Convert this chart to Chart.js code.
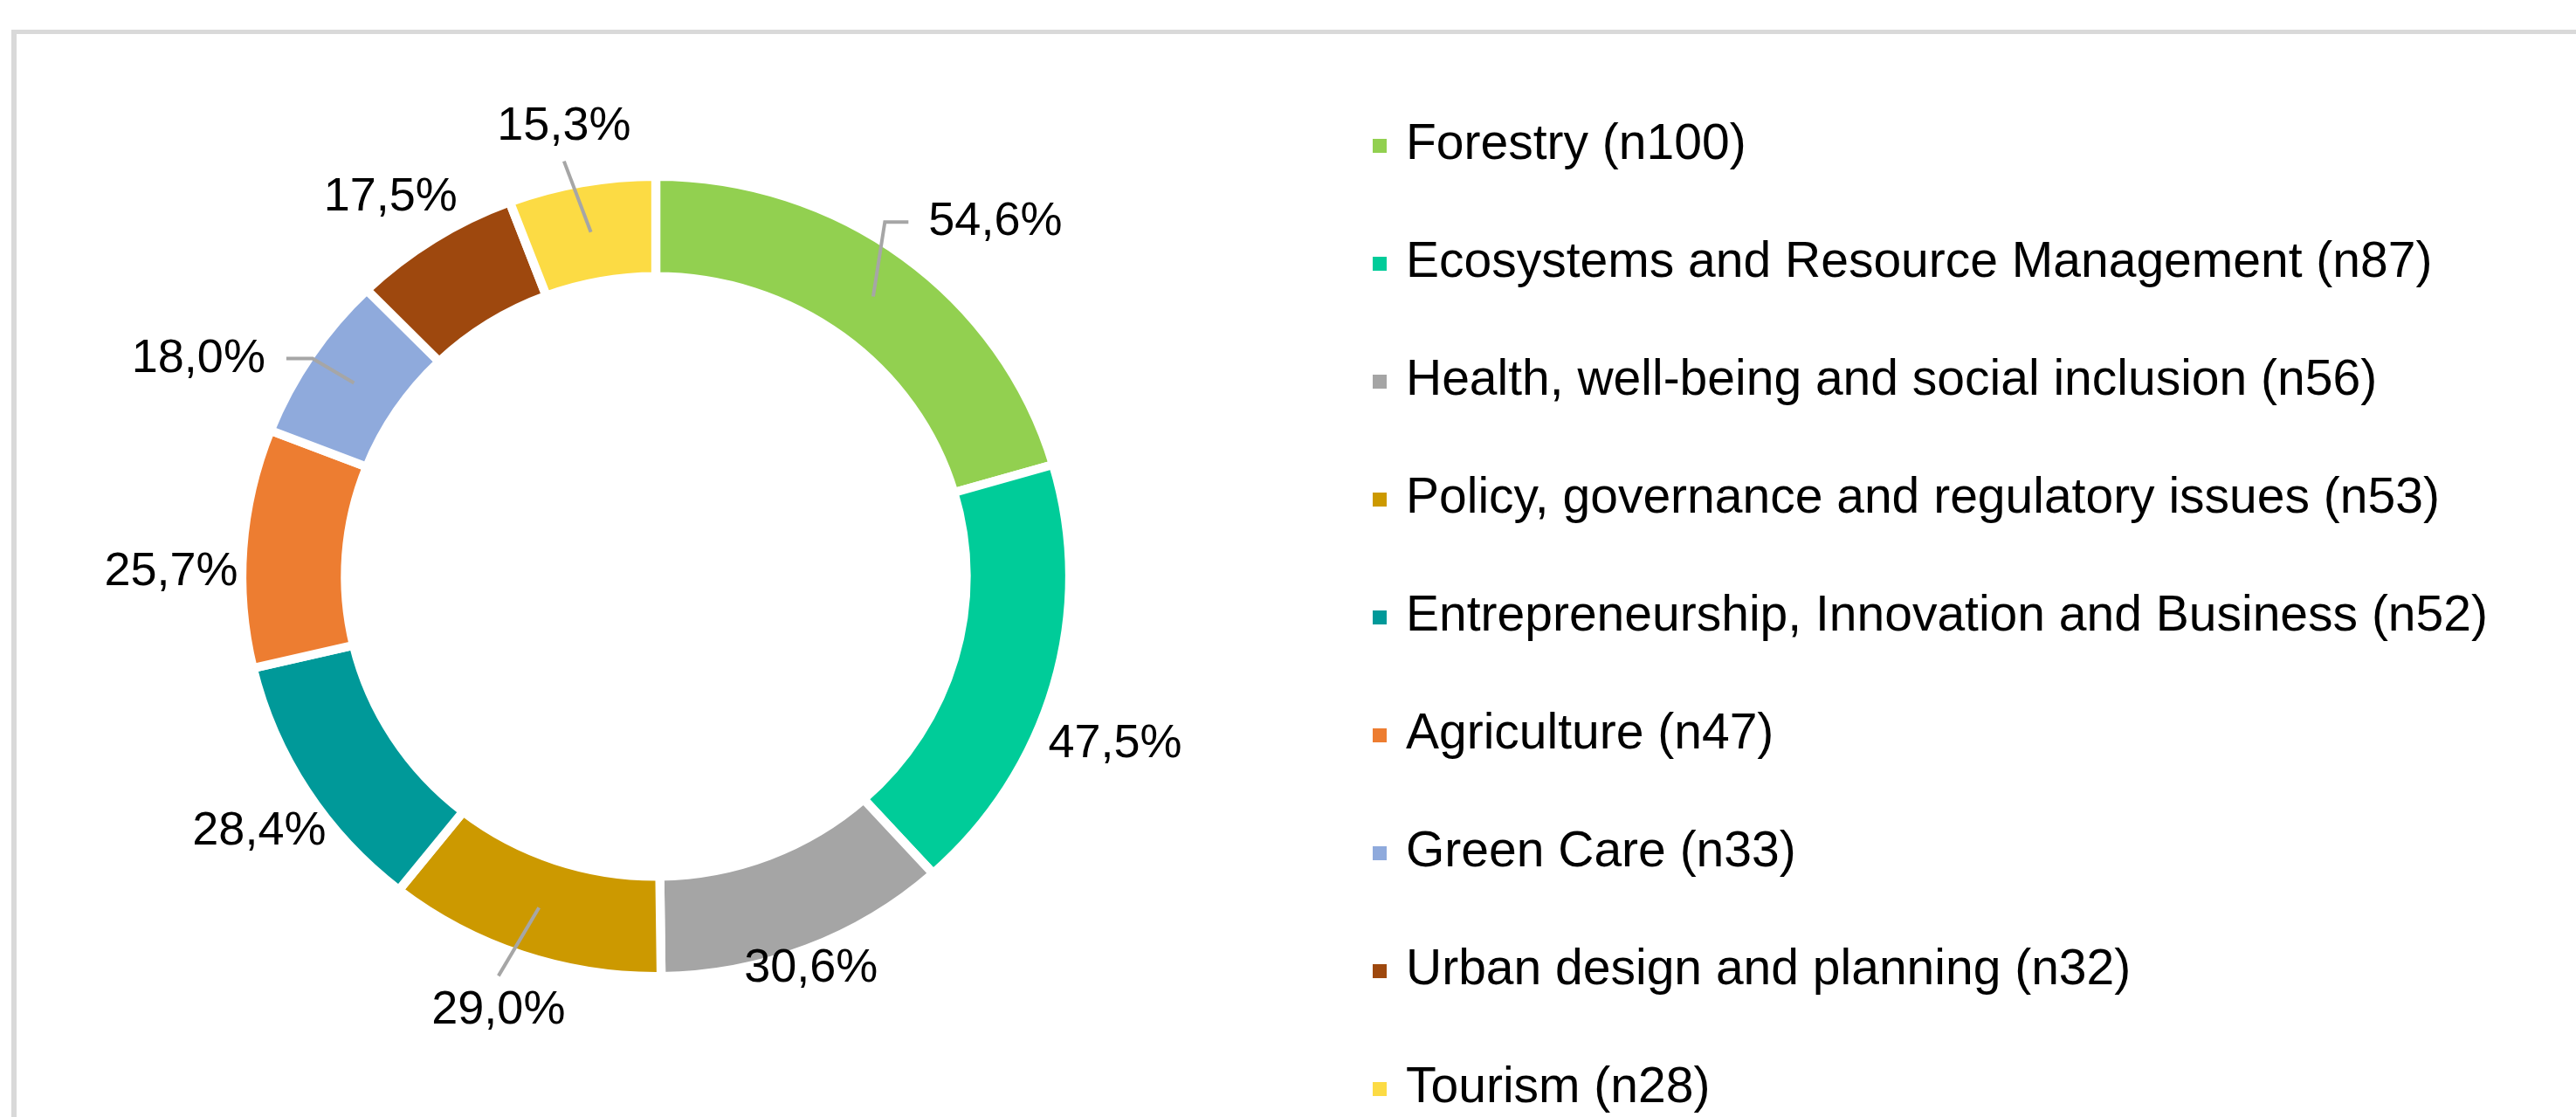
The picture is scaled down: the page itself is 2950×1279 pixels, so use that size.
<!DOCTYPE html>
<html>
<head>
<meta charset="utf-8">
<script src="https://cdn.jsdelivr.net/npm/chart.js@4.4.1/dist/chart.umd.min.js"></script>
<style>
  html, body { margin: 0; padding: 0; background: #fff; overflow: hidden; }
  #wrap { position: relative; width: 2950px; height: 1279px; }
  #frame {
    position: absolute; left: 13px; top: 34px; right: -20px; bottom: -20px;
    border-top: 5px solid #d9d9d9; border-left: 6px solid #d9d9d9;
  }
  #themes { position: absolute; left: 0; top: 0; }
</style>
</head>
<body>
<div id="wrap">
  <div id="frame"></div>
  <canvas id="themes" width="2950" height="1279"></canvas>
</div>
<script>
// categories, respondent counts and share of respondents (%)
var categories = [
    'Forestry',
    'Ecosystems and Resource Management',
    'Health, well-being and social inclusion',
    'Policy, governance and regulatory issues',
    'Entrepreneurship, Innovation and Business',
    'Agriculture',
    'Green Care',
    'Urban design and planning',
    'Tourism'
];
var counts = [100, 87, 56, 53, 52, 47, 33, 32, 28];
var shares = [54.6, 47.5, 30.6, 29.0, 28.4, 25.7, 18.0, 17.5, 15.3];

var colors = ['#92D050', '#00CC99', '#A5A5A5', '#CC9900', '#009999',
              '#ED7D31', '#8FAADC', '#9E480E', '#FCDB44'];

// label placement: [angle shift from slice middle (deg), distance from centre]
var labelPlace = [[6.9, 562], [4.2, 560], [-0.2, 483], [1.1, 529], [-0.3, 540],
                  [-3.6, 555], [-8.1, 580], [-2.5, 530], [-1.2, 526]];
var leaders = ['elbowLeft', null, null, 'above', null, null, 'elbowRight', null, 'below'];

var STRETCH = 1.035; // the original ring is slightly wider than tall
var LABEL_FONT = '54px "Liberation Sans", Arial, sans-serif';
var LEGEND_FONT = '57px "Liberation Sans", Arial, sans-serif';

function fmtShare(v) {
    return v.toFixed(1).replace('.', ',') + '%';
}

var stretchPlugin = {
    id: 'stretch',
    beforeDatasetsDraw: function (chart) {
        var ctx = chart.ctx;
        var a = chart.chartArea;
        var cx = (a.left + a.right) / 2, cy = (a.top + a.bottom) / 2;
        ctx.save();
        ctx.translate(cx, cy);
        ctx.scale(STRETCH, 1);
        ctx.translate(-cx, -cy);
    },
    afterDatasetsDraw: function (chart) {
        chart.ctx.restore();
    }
};

var labelPlugin = {
    id: 'sliceLabels',
    afterDatasetsDraw: function (chart) {
        var ctx = chart.ctx;
        var arcs = chart.getDatasetMeta(0).data;
        ctx.save();
        ctx.font = LABEL_FONT;
        ctx.fillStyle = '#000';
        ctx.textAlign = 'center';
        ctx.textBaseline = 'middle';
        arcs.forEach(function (arc, i) {
            var p = arc.getProps(['x', 'y', 'startAngle', 'endAngle', 'innerRadius', 'outerRadius'], true);
            var mid = (p.startAngle + p.endAngle) / 2;
            var a = mid + labelPlace[i][0] * Math.PI / 180;
            var lx = p.x + labelPlace[i][1] * Math.cos(a);
            var ly = p.y + labelPlace[i][1] * Math.sin(a);
            var text = fmtShare(shares[i]);
            ctx.fillText(text, lx, ly);

            if (leaders[i]) {
                var rm = (p.innerRadius + p.outerRadius) / 2;
                var ax = p.x + rm * Math.cos(mid) * STRETCH;
                var ay = p.y + rm * Math.sin(mid);
                var w = ctx.measureText(text).width;
                ctx.beginPath();
                ctx.strokeStyle = '#A6A6A6';
                ctx.lineWidth = 4;
                if (leaders[i] === 'elbowLeft') {
                    ctx.moveTo(lx - w / 2 - 23, ly);
                    ctx.lineTo(lx - w / 2 - 50, ly);
                } else if (leaders[i] === 'elbowRight') {
                    ctx.moveTo(lx + w / 2 + 24, ly);
                    ctx.lineTo(lx + w / 2 + 54, ly);
                } else if (leaders[i] === 'below') {
                    ctx.moveTo(lx, ly + 40);
                } else {
                    ctx.moveTo(lx, ly - 40);
                }
                ctx.lineTo(ax, ay);
                ctx.stroke();
            }
        });
        ctx.restore();
    }
};

var legendPlugin = {
    id: 'sideLegend',
    afterDraw: function (chart) {
        var ctx = chart.ctx;
        ctx.save();
        ctx.font = LEGEND_FONT;
        ctx.textAlign = 'left';
        ctx.textBaseline = 'alphabetic';
        categories.forEach(function (name, i) {
            var base = 182 + 135 * i;
            ctx.fillStyle = colors[i];
            ctx.fillRect(1572, base - 23, 16, 16);
            ctx.fillStyle = '#000';
            ctx.fillText(name + ' (n' + counts[i] + ')', 1610, base);
        });
        ctx.restore();
    }
};

var themesChart = new Chart(document.getElementById('themes'), {
    type: 'doughnut',
    data: {
        labels: categories,
        datasets: [{
            data: counts,
            backgroundColor: colors,
            borderColor: '#ffffff',
            borderWidth: 10
        }]
    },
    options: {
        responsive: false,
        animation: false,
        events: [],
        radius: 458,
        cutout: '75%',
        layout: {
            padding: { left: 251, right: 1699, top: 160, bottom: 119 }
        },
        plugins: {
            legend: { display: false },
            tooltip: { enabled: false }
        }
    },
    plugins: [stretchPlugin, labelPlugin, legendPlugin]
});
</script>
</body>
</html>
